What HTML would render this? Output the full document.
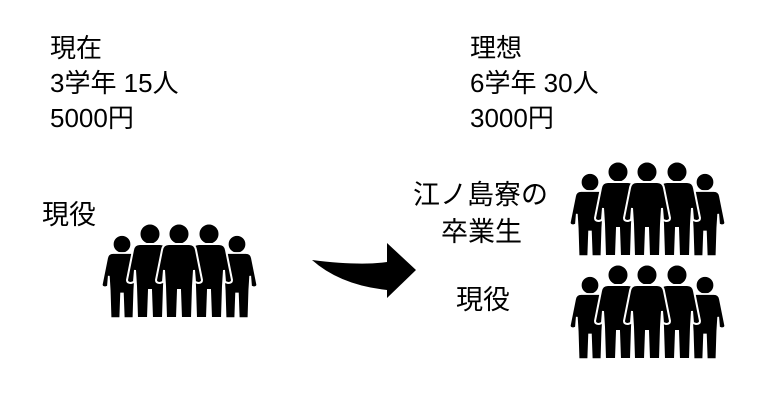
<!DOCTYPE html>
<html><head><meta charset="utf-8"><style>
body{margin:0;width:771px;height:401px;background:#fff;overflow:hidden;position:relative;font-family:"Liberation Sans","Noto Sans CJK JP",sans-serif;color:#000}
.t{position:absolute;font-size:26px;line-height:35px;white-space:nowrap}
.u{position:absolute;font-size:27px;line-height:36px;white-space:nowrap}
svg{position:absolute;left:0;top:0}
</style></head><body>
<div class="t" style="left:50px;top:31px">現在<br>3学年 15人<br>5000円</div>
<div class="t" style="left:470px;top:31px">理想<br>6学年 30人<br>3000円</div>
<div class="u" style="left:42px;top:197px">現役</div>
<div class="u" style="left:413px;top:177px">江ノ島寮の</div>
<div class="u" style="left:441px;top:214px">卒業生</div>
<div class="u" style="left:456px;top:282px">現役</div>
<svg width="771" height="401" viewBox="0 0 771 401">
<defs>
<g id="p">
<circle cx="0" cy="-10" r="10.5"/>
<path d="M-17,6 Q-16,0 -10,0 L10,0 Q16,0 17,6 L23,36 Q23,39 19,39 L16,38 L15,26 L14,42 L13,74 L2,74 L1,46 L-1,46 L-2,74 L-13,74 L-14,42 L-15,26 L-16,38 L-19,39 Q-23,39 -23,36 Z"/>
</g>
<g id="grp">
<use href="#p" transform="translate(-57,9) scale(0.88)" stroke="#fff" stroke-width="2"/>
<use href="#p" transform="translate(58,9) scale(0.88)" stroke="#fff" stroke-width="2"/>
<use href="#p" x="-29" y="0" stroke="#fff" stroke-width="2"/>
<use href="#p" x="30" y="0" stroke="#fff" stroke-width="2"/>
<use href="#p" x="0" y="0" stroke="#fff" stroke-width="2"/>
</g>
</defs>
<use href="#grp" x="179" y="244"/>
<use href="#grp" x="647" y="182"/>
<use href="#grp" x="647" y="285"/>
<path d="M312,260 Q360,266 387,262 L387,243 L416,270 L387,298 L387,290 Q340,285 312,260 Z" fill="#000"/>
</svg>
</body></html>
